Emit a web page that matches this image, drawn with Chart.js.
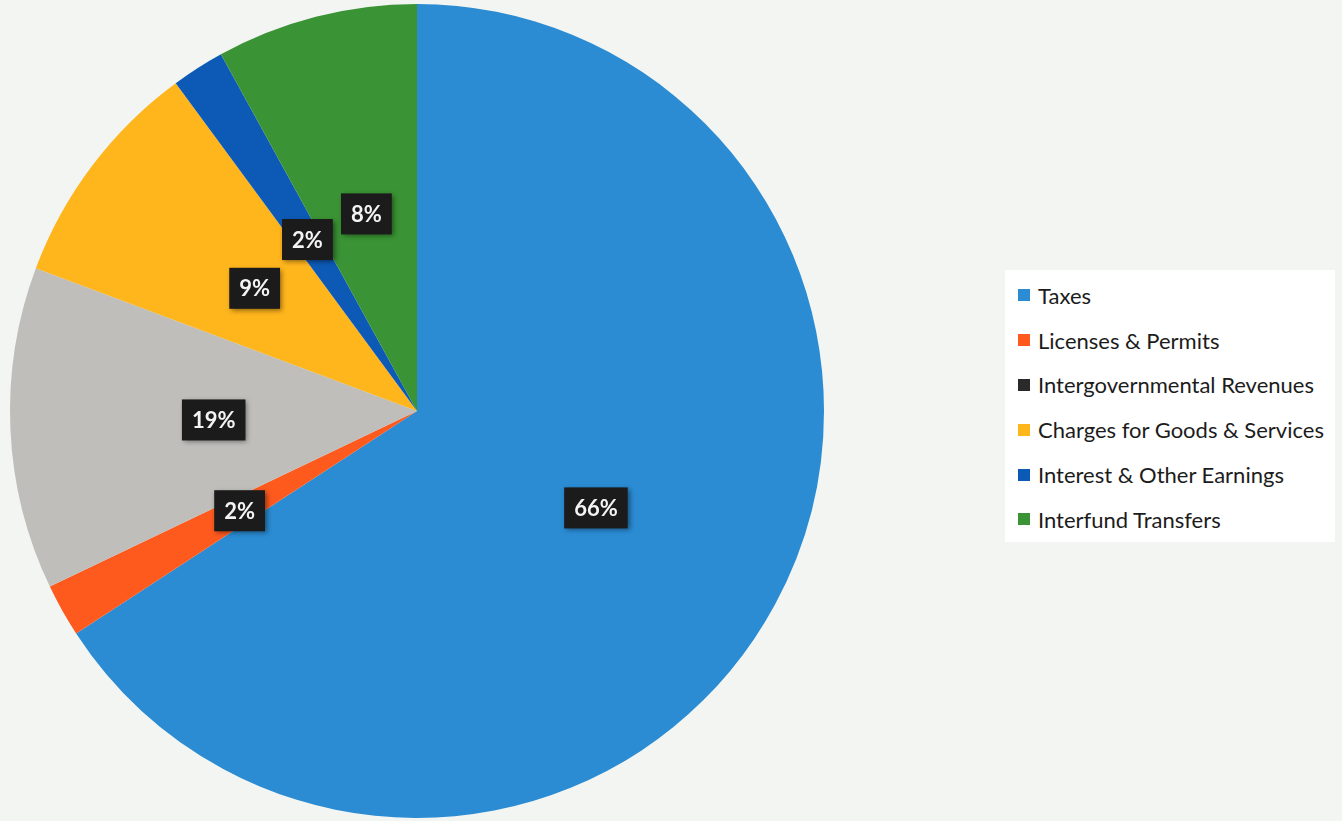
<!DOCTYPE html>
<html>
<head>
<meta charset="utf-8">
<script src="https://cdn.jsdelivr.net/npm/chart.js@4.4.1/dist/chart.umd.min.js"></script>
<style>
  html, body { margin: 0; padding: 0; background: #f3f5f2; }
  #wrap { position: relative; width: 1342px; height: 821px; }
  #legend {
    position: absolute; left: 1005px; top: 270px; width: 330px; height: 272px;
    background: #ffffff; box-sizing: border-box; padding-top: 3px;
    font-family: Lato, "Open Sans", sans-serif; font-size: 22px; color: #1c1c1c;
  }
  .row { height: 44.8px; display: flex; align-items: center; padding-left: 13px; }
  .sw { width: 12px; height: 12px; margin-right: 8px; }
</style>
</head>
<body>
<div id="wrap">
  <canvas id="pie" width="1342" height="821"></canvas>
  <div id="legend"></div>
</div>
<script>
// --- data ---
const categories = ['Taxes', 'Licenses & Permits', 'Intergovernmental Revenues',
  'Charges for Goods & Services', 'Interest & Other Earnings', 'Interfund Transfers'];
const shares = [65.8, 2.1, 12.8, 9.2, 2.1, 8.0];   // slice sizes as drawn
const pctLabels = ['66%', '2%', '19%', '9%', '2%', '8%'];  // labels as printed
const colors = ['#2b8cd3', '#ff5a1e', '#bfbebb', '#ffb51c', '#0d5ab6', '#3a9334'];
const legendSwatch = ['#2b8cd3', '#ff5a1e', '#2a2a2a', '#ffb51c', '#0d5ab6', '#3a9334'];

// --- boxed percentage labels ---
const boxLabels = {
  id: 'boxLabels',
  afterDatasetsDraw(chart) {
    const ctx = chart.ctx;
    ctx.save();
    ctx.font = 'bold 22px Lato, "Open Sans", sans-serif';
    ctx.textAlign = 'center';
    ctx.textBaseline = 'middle';
    chart.getDatasetMeta(0).data.forEach((arc, i) => {
      const p = arc.getCenterPoint();
      const w = ctx.measureText(pctLabels[i]).width + 20;
      const h = 41;
      ctx.shadowColor = 'rgba(0,0,0,0.45)';
      ctx.shadowBlur = 5;
      ctx.shadowOffsetX = 2;
      ctx.shadowOffsetY = 2;
      ctx.fillStyle = '#1b1b1b';
      ctx.fillRect(p.x - w / 2, p.y - h / 2, w, h);
      ctx.shadowColor = 'transparent';
      ctx.fillStyle = '#f4f4f4';
      ctx.fillText(pctLabels[i], p.x, p.y + 1);
    });
    ctx.restore();
  }
};

new Chart(document.getElementById('pie'), {
  type: 'pie',
  data: {
    labels: categories,
    datasets: [{
      data: shares,
      backgroundColor: colors,
      borderWidth: 0
    }]
  },
  options: {
    responsive: false,
    animation: false,
    layout: { padding: { left: 10, right: 518, top: 4, bottom: 3 } },
    plugins: {
      legend: { display: false },
      tooltip: { enabled: false }
    }
  },
  plugins: [boxLabels]
});

// --- legend ---
const legend = document.getElementById('legend');
categories.forEach((c, i) => {
  const row = document.createElement('div');
  row.className = 'row';
  row.innerHTML = '<span class="sw" style="background:' + legendSwatch[i] + '"></span>' + c;
  legend.appendChild(row);
});
</script>
</body>
</html>
